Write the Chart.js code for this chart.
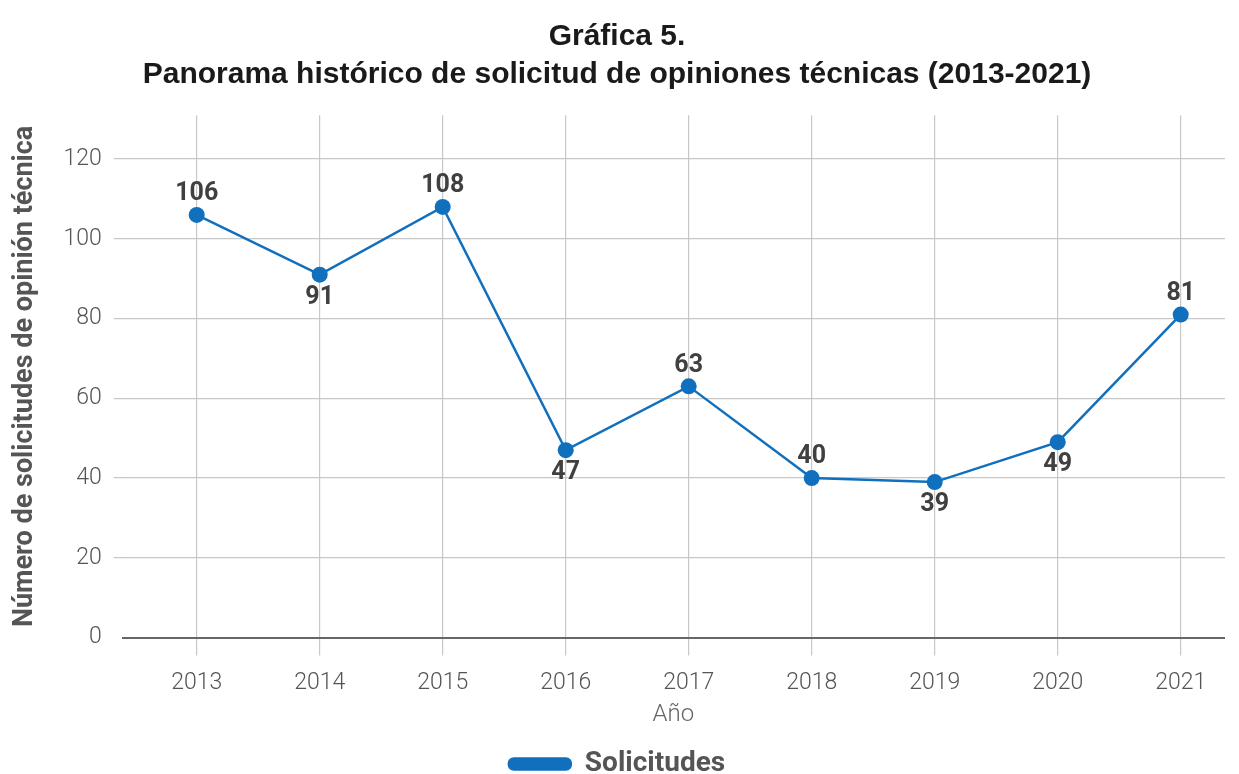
<!DOCTYPE html>
<html>
<head>
<meta charset="utf-8">
<script src="https://cdn.jsdelivr.net/npm/chart.js@4"></script>
<style>
  html, body { margin: 0; padding: 0; background: #fff; }
  #wrap { width: 1239px; height: 774px; }
</style>
</head>
<body>
<div id="wrap"><canvas id="chart" width="1239" height="774"></canvas></div>
<script>
const years = [2013, 2014, 2015, 2016, 2017, 2018, 2019, 2020, 2021]
const solicitudes = [106, 91, 108, 47, 63, 40, 39, 49, 81]
// where each number sits relative to its point
const labelSide = ['above', 'below', 'above', 'below', 'above', 'above', 'below', 'below', 'above']
const yTicks = [0, 20, 40, 60, 80, 100, 120]

const blue = '#1170be'

// draws the number next to each point
const pointLabels = {
    id: 'pointLabels',
    afterDatasetsDraw(chart) {
        const ctx = chart.ctx
        const meta = chart.getDatasetMeta(0)
        ctx.save()
        ctx.font = 'bold 25px Roboto, "Open Sans", sans-serif'
        ctx.fillStyle = '#404040'
        ctx.textAlign = 'center'
        ctx.textBaseline = 'middle'
        meta.data.forEach((pt, i) => {
            const dy = labelSide[i] === 'above' ? -21 : 23
            ctx.fillText(String(solicitudes[i]), pt.x, pt.y + dy)
        })
        ctx.restore()
    }
}

const ctx = document.getElementById('chart')
const chart = new Chart(ctx, {
    type: 'line',
    data: {
        datasets: [{
            label: 'Solicitudes',
            data: years.map((y, i) => ({ x: y, y: solicitudes[i] })),
            borderColor: blue,
            backgroundColor: blue,
            borderWidth: 2.5,
            pointRadius: 8,
            pointHoverRadius: 8,
            pointBackgroundColor: blue,
            pointBorderWidth: 0,
            tension: 0
        }]
    },
    options: {
        responsive: false,
        animation: false,
        layout: { padding: { left: 9, right: 14, top: 0, bottom: -14 } },
        plugins: {
            title: {
                display: true,
                text: ['Gráfica 5.', 'Panorama histórico de solicitud de opiniones técnicas (2013-2021)'],
                color: '#1a1a1a',
                font: { family: '"Liberation Sans", Arial, sans-serif', size: 30, weight: 'bold', lineHeight: 1.27 },
                padding: { top: 18, bottom: 21 }
            },
            legend: {
                position: 'bottom',
                labels: {
                    color: '#555',
                    font: { family: 'Roboto, sans-serif', size: 28, weight: 'bold' },
                    boxWidth: 62,
                    boxHeight: 11,
                    useBorderRadius: true,
                    borderRadius: 5,
                    padding: 0
                }
            },
            tooltip: { enabled: false }
        },
        scales: {
            x: {
                type: 'linear',
                min: 2012.39,
                max: 2021.36,
                afterBuildTicks: (scale) => {
                    scale.ticks = years.map(v => ({ value: v }))
                },
                ticks: {
                    color: '#555',
                    font: { family: 'Roboto, sans-serif', size: 23, weight: 300 },
                    padding: 14,
                    maxRotation: 0,
                    callback: (v) => String(v)
                },
                grid: { color: '#c8c8c8', lineWidth: 1.2, tickLength: 18, drawOnChartArea: true },
                border: { display: false },
                title: {
                    display: true,
                    text: 'Año',
                    color: '#666',
                    font: { family: 'Roboto, sans-serif', size: 24, weight: 300 },
                    padding: { top: -11, bottom: 21 }
                }
            },
            y: {
                min: 0,
                max: 131,
                afterBuildTicks: (scale) => {
                    scale.ticks = yTicks.map(v => ({ value: v }))
                },
                ticks: {
                    color: '#555',
                    font: { family: 'Roboto, sans-serif', size: 23, weight: 300 },
                    padding: 12
                },
                grid: {
                    color: (c) => c.tick && c.tick.value === 0 ? '#666' : '#c8c8c8',
                    lineWidth: (c) => c.tick && c.tick.value === 0 ? 2 : 1.2,
                    tickColor: (c) => c.tick && c.tick.value === 0 ? 'rgba(0,0,0,0)' : '#c8c8c8',
                    tickLength: 8
                },
                border: { display: false },
                title: {
                    display: true,
                    text: 'Número de solicitudes de opinión técnica',
                    color: '#555',
                    font: { family: 'Roboto, sans-serif', size: 27, weight: 'bold' },
                    padding: { top: 0, bottom: 10 }
                }
            }
        }
    },
    plugins: [pointLabels]
})
</script>
</body>
</html>
